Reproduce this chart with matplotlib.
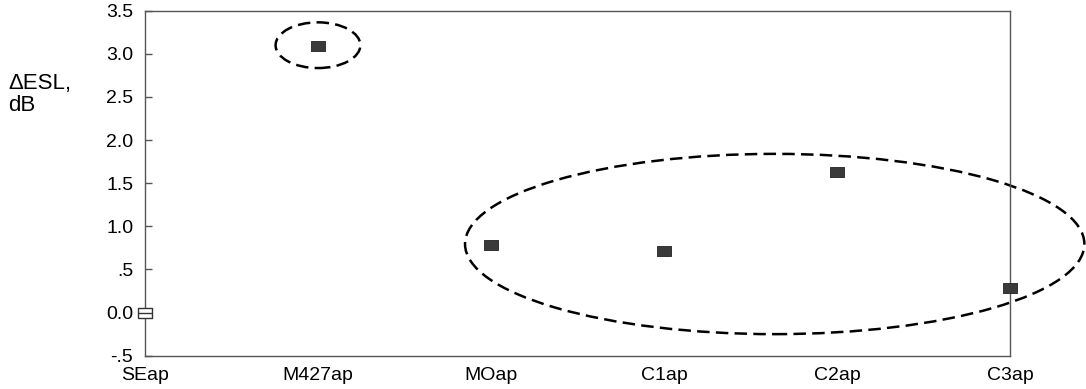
import matplotlib.pyplot as plt
from matplotlib.patches import Ellipse

plt.rcParams['font.family'] = ['Liberation Sans', 'DejaVu Sans']

categories = ["SEap", "M427ap", "MOap", "C1ap", "C2ap", "C3ap"]
delta_esl = [0.0, 3.09, 0.78, 0.71, 1.63, 0.29]
y_ticks = [-0.5, 0.0, 0.5, 1.0, 1.5, 2.0, 2.5, 3.0, 3.5]
y_tick_labels = ["-.5", "0.0", ".5", "1.0", "1.5", "2.0", "2.5", "3.0", "3.5"]

# groups circled on the chart: (centre x, centre y, width, height) in data units
groups = [(1.0, 3.1, 0.49, 0.53), (3.64, 0.795, 3.58, 2.09)]

fig = plt.figure(figsize=(10.86, 3.89), dpi=100)
ax = fig.add_axes([0.1335, 0.0856, 0.7965, 0.8869])

x = list(range(len(categories)))
rect = [(-1.35, -1), (1.35, -1), (1.35, 1), (-1.35, 1), (-1.35, -1)]

# reference condition: open box
ax.plot(x[0], delta_esl[0], linestyle='none', marker=rect, markersize=10,
        markerfacecolor='white', markeredgecolor='#333333', markeredgewidth=1,
        clip_on=False, zorder=4)
ax.plot(x[0], delta_esl[0], linestyle='none', marker='_', markersize=9.5,
        markeredgecolor='#333333', markeredgewidth=1, clip_on=False, zorder=5)

# other conditions: filled boxes
ax.plot(x[1:], delta_esl[1:], linestyle='none', marker=rect, markersize=9.5,
        markerfacecolor='#3a3a3a', markeredgecolor='#222222', markeredgewidth=0.6,
        clip_on=False, zorder=4)

for cx, cy, w, h in groups:
    ax.add_patch(Ellipse((cx, cy), w, h, fill=False, edgecolor='black',
                         linewidth=1.8, linestyle=(0, (5, 2.5)), clip_on=False))

ax.set_xlim(0, 5)
ax.set_ylim(-0.5, 3.5)
ax.set_xticks(x)
ax.set_xticklabels(categories, fontsize=14)
ax.set_yticks(y_ticks)
ax.set_yticklabels(y_tick_labels, fontsize=14)
ax.tick_params(axis='x', length=0, pad=8)
ax.tick_params(axis='y', direction='in', length=5, width=1, color='#555555', pad=8.5)

for s in ax.spines.values():
    s.set_color('#555555')
    s.set_linewidth(1)

fig.text(0.0074, 0.812, "\u0394ESL,\ndB", fontsize=16, ha='left', va='top',
         linespacing=1.05)

fig.savefig("out.png", dpi=100)
